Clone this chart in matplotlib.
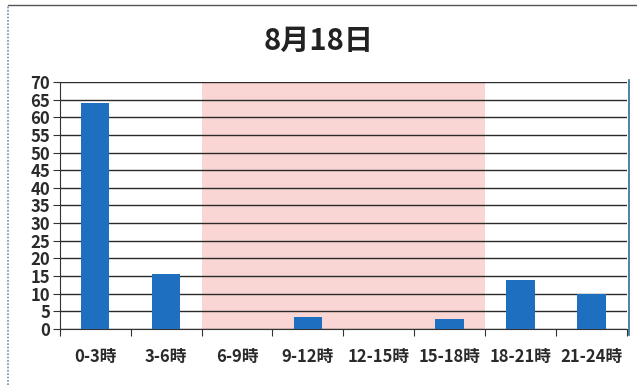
import matplotlib
matplotlib.use("Agg")
import matplotlib.pyplot as plt
from matplotlib.lines import Line2D

plt.rcParams['font.family'] = ['Noto Sans CJK JP', 'DejaVu Sans']

categories = ["0-3時", "3-6時", "6-9時", "9-12時", "12-15時", "15-18時", "18-21時", "21-24時"]
values = [64, 15.5, 0, 3.5, 0, 2.8, 14, 10]
highlight_range = ("6-9時", "15-18時")
title = "8月18日"
yticks = list(range(0, 75, 5))

fig = plt.figure(figsize=(6.37, 3.85), dpi=100)
ax = fig.add_axes([0.094, 0.1455, 0.890, 0.6415])

x = list(range(len(categories)))
i0 = categories.index(highlight_range[0])
i1 = categories.index(highlight_range[1])
ax.axvspan(i0 - 0.5, i1 + 0.5, color="#f9d6d4", zorder=0, lw=0)

ax.bar(x, values, width=0.4, color="#1f6fc1", zorder=3)

ax.set_xlim(-0.5, len(categories) - 0.5)
ax.set_ylim(0, 70)
ax.set_yticks(yticks)
ax.yaxis.grid(True, color="#2a2a2a", lw=1.0, zorder=1)
ax.set_axisbelow(False)

ax.set_xticks([i + 0.5 for i in range(-1, len(categories))], minor=False)
ax.set_xticklabels([])
ax.set_xticks(x, minor=True)
ax.set_xticklabels(categories, minor=True, fontsize=12, fontweight="bold", color="#2a2a2a")
ax.tick_params(axis="x", which="major", length=5, color="#333333", direction="out")
ax.tick_params(axis="x", which="minor", length=0, pad=14)
ax.tick_params(axis="y", length=5, color="#333333", labelsize=12, pad=2)
for lab in ax.get_yticklabels():
    lab.set_fontweight("bold")
    lab.set_color("#2a2a2a")

for s in ["top", "right"]:
    ax.spines[s].set_visible(False)
ax.spines["left"].set_color("#333333")
ax.spines["bottom"].set_color("#333333")

fig.text(0.5, 0.895, title, ha="center", va="center", fontsize=21, fontweight="bold", color="#222222")

# outer frame
fig.add_artist(Line2D([8/637, 8/637], [0, 1 - 5/385], transform=fig.transFigure, color="#6a8fb5", lw=1.2, ls=(0, (1, 1))))
fig.add_artist(Line2D([8/637, 1], [1 - 5/385, 1 - 5/385], transform=fig.transFigure, color="#555555", lw=1.0))
fig.add_artist(Line2D([629/637, 629/637], [1 - 335/385, 1 - 80/385], transform=fig.transFigure, color="#2a6f8f", lw=1.2))

fig.savefig("out.png", dpi=100)
